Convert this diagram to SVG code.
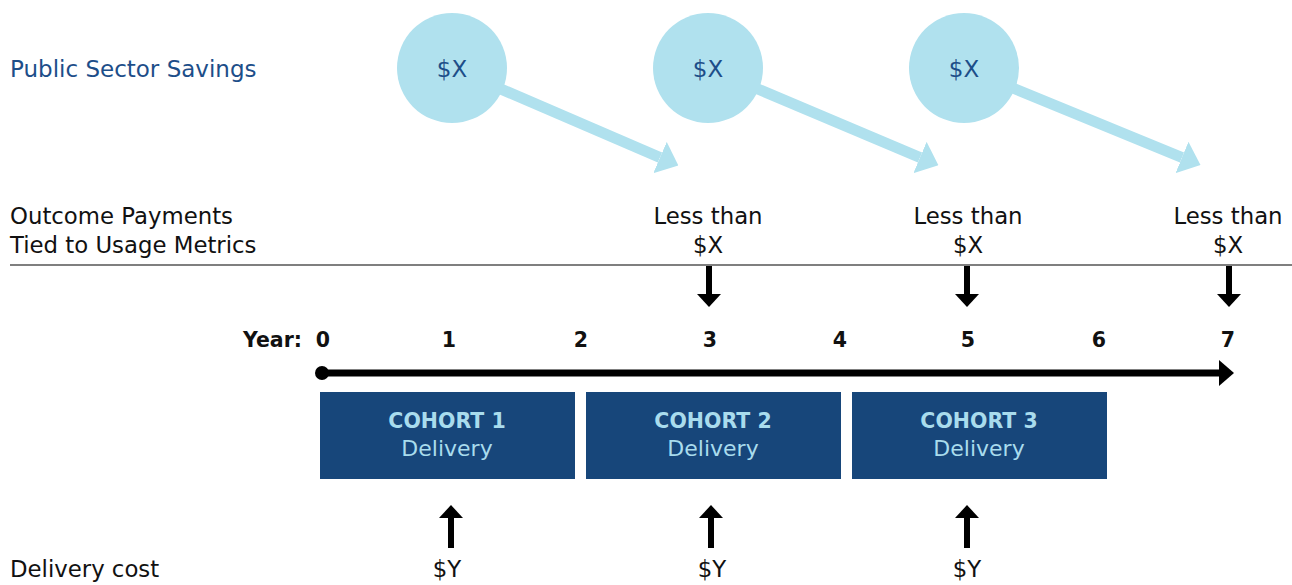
<svg xmlns="http://www.w3.org/2000/svg" width="1292" height="585" viewBox="0 0 1292 585">
  <style>
    text { font-family: "DejaVu Sans", "Liberation Sans", sans-serif; }
    .lbl { font-size: 22.8px; fill: #111; }
    .blue { font-size: 23px; fill: #1d4e89; }
    .yr { font-size: 20.5px; font-weight: bold; fill: #111; }
    .mid { text-anchor: middle; }
    .box { fill: #17467a; }
    .boxT { font-size: 20.5px; font-weight: bold; fill: #a9dced; text-anchor: middle; }
    .boxS { font-size: 22px; fill: #a9dced; text-anchor: middle; }
    .bubble { fill: #b0e1ee; }
    .flow { stroke: #b0e1ee; stroke-width: 11; fill: none; }
    .pay { stroke: #000; stroke-width: 6; fill: none; }
  </style>
  <defs>
    <marker id="headLight" markerUnits="userSpaceOnUse" viewBox="0 0 20 34" refX="0" refY="17" markerWidth="20" markerHeight="34" orient="auto">
      <path d="M0,0 L20,17 L0,34 z" fill="#b0e1ee"/>
    </marker>
    <marker id="headDark" markerUnits="userSpaceOnUse" viewBox="0 0 13 24" refX="0" refY="12" markerWidth="13" markerHeight="24" orient="auto">
      <path d="M0,0 L13,12 L0,24 z" fill="#000"/>
    </marker>
    <marker id="headAxis" markerUnits="userSpaceOnUse" viewBox="0 0 15 26" refX="0" refY="13" markerWidth="15" markerHeight="26" orient="auto">
      <path d="M0,0 L15,13 L0,26 z" fill="#000"/>
    </marker>
  </defs>

  <!-- row labels -->
  <text class="blue" x="10" y="77">Public Sector Savings</text>
  <text class="lbl" x="10" y="224">Outcome Payments</text>
  <text class="lbl" x="10" y="253">Tied to Usage Metrics</text>
  <text class="lbl" x="10" y="577">Delivery cost</text>
  <line x1="10" y1="265" x2="1292" y2="265" stroke="#555" stroke-width="1.5"/>

  <!-- connectors -->
  <g id="connectors">
    <line class="flow" x1="452" y1="68" x2="660" y2="157.5" marker-end="url(#headLight)"/>
    <line class="flow" x1="708" y1="68" x2="920" y2="157.5" marker-end="url(#headLight)"/>
    <line class="flow" x1="964" y1="68" x2="1182" y2="157.5" marker-end="url(#headLight)"/>

    <line class="pay" x1="709" y1="266" x2="709" y2="294" marker-end="url(#headDark)"/>
    <line class="pay" x1="967" y1="266" x2="967" y2="294" marker-end="url(#headDark)"/>
    <line class="pay" x1="1229" y1="266" x2="1229" y2="294" marker-end="url(#headDark)"/>

    <line class="pay" x1="451" y1="548" x2="451" y2="518" marker-end="url(#headDark)"/>
    <line class="pay" x1="711" y1="548" x2="711" y2="518" marker-end="url(#headDark)"/>
    <line class="pay" x1="967" y1="548" x2="967" y2="518" marker-end="url(#headDark)"/>
  </g>

  <!-- savings bubbles -->
  <g id="saving1"><circle class="bubble" cx="452" cy="68" r="55"/><text class="blue mid" x="452" y="77">$X</text></g>
  <g id="saving2"><circle class="bubble" cx="708" cy="68" r="55"/><text class="blue mid" x="708" y="77">$X</text></g>
  <g id="saving3"><circle class="bubble" cx="964" cy="68" r="55"/><text class="blue mid" x="964" y="77">$X</text></g>

  <!-- outcome payments -->
  <g id="payment3"><text class="lbl mid" x="708" y="224">Less than</text><text class="lbl mid" x="708" y="253">$X</text></g>
  <g id="payment5"><text class="lbl mid" x="968" y="224">Less than</text><text class="lbl mid" x="968" y="253">$X</text></g>
  <g id="payment7"><text class="lbl mid" x="1228" y="224">Less than</text><text class="lbl mid" x="1228" y="253">$X</text></g>

  <!-- timeline -->
  <g id="timeline">
    <text class="yr" x="302" y="347" text-anchor="end">Year:</text>
    <text class="yr mid" x="323" y="347">0</text>
    <text class="yr mid" x="449" y="347">1</text>
    <text class="yr mid" x="581" y="347">2</text>
    <text class="yr mid" x="710" y="347">3</text>
    <text class="yr mid" x="840" y="347">4</text>
    <text class="yr mid" x="968" y="347">5</text>
    <text class="yr mid" x="1099" y="347">6</text>
    <text class="yr mid" x="1228" y="347">7</text>
    <circle cx="322" cy="373" r="7" fill="#000"/>
    <line x1="322" y1="373" x2="1219" y2="373" stroke="#000" stroke-width="7" marker-end="url(#headAxis)"/>
  </g>

  <!-- cohorts -->
  <g id="cohort1"><rect class="box" x="320" y="392" width="255" height="87"/><text class="boxT" x="447" y="428">COHORT 1</text><text class="boxS" x="447" y="456">Delivery</text></g>
  <g id="cohort2"><rect class="box" x="586" y="392" width="255" height="87"/><text class="boxT" x="713" y="428">COHORT 2</text><text class="boxS" x="713" y="456">Delivery</text></g>
  <g id="cohort3"><rect class="box" x="852" y="392" width="255" height="87"/><text class="boxT" x="979" y="428">COHORT 3</text><text class="boxS" x="979" y="456">Delivery</text></g>

  <!-- delivery costs -->
  <g id="cost1"><text class="lbl mid" x="447" y="577">$Y</text></g>
  <g id="cost2"><text class="lbl mid" x="712" y="577">$Y</text></g>
  <g id="cost3"><text class="lbl mid" x="967" y="577">$Y</text></g>
</svg>
